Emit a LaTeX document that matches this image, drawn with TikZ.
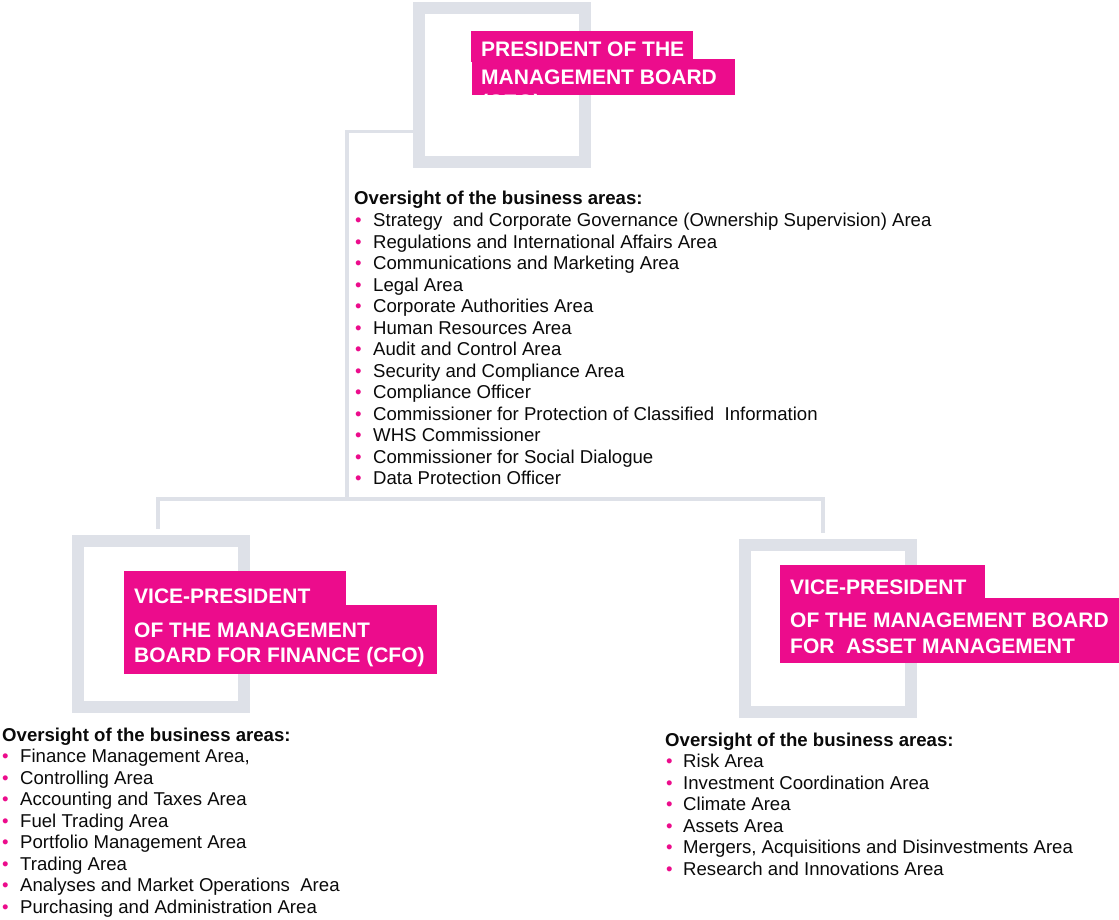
\documentclass[tikz,border=0pt]{standalone}
\usepackage{fontspec}
\setmainfont{Liberation Sans}
\usetikzlibrary{calc}
\definecolor{brandpink}{HTML}{EC0C8C}
\definecolor{framegray}{HTML}{DEE1E8}
\definecolor{bodytext}{HTML}{0A0A0A}
\tikzset{
  frame/.style={draw=framegray, line width=12pt, fill=none, inner sep=0pt, minimum width=166pt},
  link/.style={draw=framegray, line width=3.5pt},
  band/.style={fill=brandpink, inner sep=0pt, anchor=north west},
  title/.style={text=white, anchor=base west, inner sep=0pt, font=\fontsize{21}{27}\selectfont\bfseries},
  head/.style={text=bodytext, anchor=base west, inner sep=0pt, font=\fontsize{18.6}{21.5}\selectfont\bfseries},
  item/.style={text=bodytext, anchor=base west, inner sep=0pt, font=\fontsize{18.6}{21.5}\selectfont},
  dot/.style={text=brandpink, anchor=base west, inner sep=0pt, font=\fontsize{18.6}{21.5}\selectfont},
}
\begin{document}
\begin{tikzpicture}[x=1pt, y=-1pt]
\useasboundingbox (0,0) rectangle (1119,920);

% frames of the three board members
\node[frame, minimum height=154pt] (ceo) at (502,85) {};
\node[frame, minimum height=166pt] (cfo) at (161,624) {};
\node[frame, minimum height=167pt] (cam) at (828,628.5) {};

% connectors
\coordinate (tap) at (413,131.5);
\coordinate (bend) at (347,131.5);
\coordinate (trunk) at (347,499);
\coordinate (busL) at (158,499);
\coordinate (busR) at (823,499);
\draw[link] (tap) -- (bend) -- (trunk);
\draw[link] ($(busL |- cfo.north)+(0,-6)$) -- (busL) -- (busR) -- ($(busR |- cam.north)+(0,-6)$);

% president
\node[band, minimum width=222pt, minimum height=31pt] (ceoA) at (471,31) {};
\node[band, minimum width=263pt, minimum height=36pt] (ceoB) at (472,59) {};
\node[title] (ceoT1) at (481,56.7) {PRESIDENT OF THE};
\node[title] (ceoT2) at (481,84.3) {MANAGEMENT BOARD};
\begin{scope}
  \clip (ceoB.north west) rectangle (ceoB.south east);
  \node[title] (ceoT3) at (481,109.5) {(CEO)};
\end{scope}

% vice-president for finance
\node[band, minimum width=222pt, minimum height=34pt] (cfoA) at (124,571) {};
\node[band, minimum width=313pt, minimum height=69pt] (cfoB) at (124,604.5) {};
\node[title] (cfoT1) at (134,603) {VICE-PRESIDENT};
\node[title] (cfoT2) at (134,637) {OF THE MANAGEMENT};
\node[title] (cfoT3) at (134,662) {BOARD FOR FINANCE (CFO)};

% vice-president for asset management
\node[band, minimum width=205pt, minimum height=33pt] (camA) at (780,565) {};
\node[band, minimum width=339pt, minimum height=65pt] (camB) at (780,597.5) {};
\node[title] (camT1) at (790,594.5) {VICE-PRESIDENT};
\node[title] (camT2) at (790,627.5) {OF THE MANAGEMENT BOARD};
\node[title] (camT3) at (790,653) {FOR\ \ ASSET MANAGEMENT};

% oversight lists
\node[head] (ceoH) at (354,205) {Oversight of the business areas:};
\foreach \t [count=\i] in {
  {Strategy\ \ and Corporate Governance (Ownership Supervision) Area},
  {Regulations and International Affairs Area},
  {Communications and Marketing Area},
  {Legal Area},
  {Corporate Authorities Area},
  {Human Resources Area},
  {Audit and Control Area},
  {Security and Compliance Area},
  {Compliance Officer},
  {Commissioner for Protection of Classified\ \ Information},
  {WHS Commissioner},
  {Commissioner for Social Dialogue},
  {Data Protection Officer}} {
  \node[dot] (ceoB\i) at (355,{226.5+21.5*(\i-1)}) {•};
  \node[item] (ceoI\i) at (373,{226.5+21.5*(\i-1)}) {\t};
}

\node[head] (cfoH) at (2,741) {Oversight of the business areas:};
\foreach \t [count=\i] in {
  {Finance Management Area,},
  {Controlling Area},
  {Accounting and Taxes Area},
  {Fuel Trading Area},
  {Portfolio Management Area},
  {Trading Area},
  {Analyses and Market Operations\ \ Area},
  {Purchasing and Administration Area}} {
  \node[dot] (cfoB\i) at (2,{762.5+21.5*(\i-1)}) {•};
  \node[item] (cfoI\i) at (20,{762.5+21.5*(\i-1)}) {\t};
}

\node[head] (camH) at (665,746) {Oversight of the business areas:};
\foreach \t [count=\i] in {
  {Risk Area},
  {Investment Coordination Area},
  {Climate Area},
  {Assets Area},
  {Mergers, Acquisitions and Disinvestments Area},
  {Research and Innovations Area}} {
  \node[dot] (camB\i) at (666,{767.5+21.5*(\i-1)}) {•};
  \node[item] (camI\i) at (683,{767.5+21.5*(\i-1)}) {\t};
}
\end{tikzpicture}
\end{document}
